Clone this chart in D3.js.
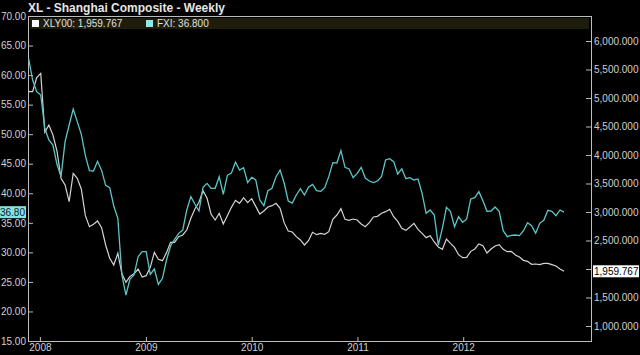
<!DOCTYPE html>
<html><head><meta charset="utf-8">
<script src="https://cdn.jsdelivr.net/npm/d3@7"></script>
<style>
html,body{margin:0;padding:0;background:#000;}
svg{display:block;}
text{font-family:"Liberation Sans",Arial,sans-serif;}
</style></head><body>
<svg id="chart" width="640" height="355"></svg>
<script>
const title = "XL - Shanghai Composite - Weekly";
const seriesNames = ["XLY00", "FXI"];
const startDate = "2007-11-23";
const stepDays = 14;
const fxiValues = [62.84,59.17,57.20,56.63,50.99,49.02,48.17,44.90,42.81,48.73,
51.55,54.26,52.12,49.97,46.36,43.83,43.77,45.41,43.88,41.34,
40.95,37.85,35.76,26.17,22.78,25.49,26.17,29.27,30.12,30.12,
26.28,27.18,24.59,25.61,28.71,31.08,32.21,33.22,33.78,37.17,
39.43,38.18,37.00,41.01,41.68,40.84,40.84,42.81,39.82,43.04,
43.43,45.29,43.94,44.33,41.80,42.70,42.25,38.86,37.90,40.44,
40.84,42.81,43.94,41.74,38.69,38.35,39.71,40.78,39.71,41.01,
41.51,40.44,40.33,40.95,42.81,45.18,45.12,47.21,44.39,44.11,
42.64,43.37,44.39,42.59,42.08,41.80,42.08,42.81,45.63,45.86,
45.35,43.26,44.16,42.47,42.64,42.25,42.42,39.99,36.61,37.17,
36.32,31.25,34.07,37.62,36.89,34.35,36.04,35.08,35.65,39.03,
39.26,40.27,38.75,36.94,37.00,37.68,36.94,33.67,32.66,32.88,
32.94,32.83,33.67,35.03,34.52,33.22,34.91,35.42,37.11,36.94,
36.21,37.17,36.80];
const xlValues = [5111,5111,5357,5433,4398,4526,4351,4070,3591,3474,
3181,3678,3591,3404,2936,2743,2784,2842,2725,2421,
2187,2070,2275,1918,1766,1871,1918,2000,1860,1883,
2029,2292,2170,2146,2287,2468,2468,2567,2597,2684,
2889,3053,3170,3374,3240,2959,2860,2977,2789,2936,
3082,3205,3152,3251,3164,3234,3099,2965,3018,3088,
3111,3152,3064,2813,2667,2649,2567,2509,2421,2497,
2643,2602,2626,2608,2655,2871,2947,3058,2871,2854,
2877,2860,2789,2743,2813,2912,2924,2977,3006,3047,
2918,2836,2713,2678,2737,2801,2696,2626,2550,2585,
2474,2386,2345,2526,2450,2380,2251,2199,2205,2310,
2351,2439,2409,2281,2351,2404,2427,2345,2304,2310,
2246,2211,2152,2135,2082,2088,2076,2099,2099,2076,
2053,2000,1959.767];
const leftTicks = [15,20,25,30,35,40,45,50,55,60,65,70];
const rightTicks = [1000,1500,2000,2500,3000,3500,4000,4500,5000,5500,6000];
const yearTicks = ["2008-01-01","2009-01-01","2010-01-01","2011-01-01","2012-01-01"];

const m = {left:28, right:591, top:16, bottom:341};
const parse = d3.timeParse("%Y-%m-%d");
const t0 = parse(startDate);
const dates = fxiValues.map((_, i) => d3.timeDay.offset(t0, i * stepDays));
const x = d3.scaleTime().domain([parse("2007-11-21"), parse("2013-03-17")]).range([m.left, m.right]);
const yL = d3.scaleLinear().domain([15, 70]).range([m.bottom, m.top]);
const yR = d3.scaleLinear().domain([736.8, 6438.6]).range([m.bottom, m.top]);

const svg = d3.select("#chart");
svg.append("rect").attr("width", 640).attr("height", 355).attr("fill", "#000");

const axisColor = "#bdbdbd", textColor = "#d0d0d0";
const fxiColor = "#5cc6c6", xlColor = "#d4d4d4";

// title
svg.append("text").attr("x", 28).attr("y", 12).attr("fill", "#e6e6e6")
  .attr("font-size", 12).attr("font-weight", "bold").text(title);

// legend bar
svg.append("rect").attr("x", 30).attr("y", 18).attr("width", 559).attr("height", 11).attr("fill", "#1e1c0a");
const lastXl = xlValues[xlValues.length - 1], lastFxi = fxiValues[fxiValues.length - 1];
const legendItems = [
  {name: seriesNames[0], val: d3.format(",.3f")(lastXl), color: "#ffffff", x: 32},
  {name: seriesNames[1], val: d3.format(",.3f")(lastFxi), color: "#8ee8e8", x: 146}
];
legendItems.forEach(d => {
  svg.append("rect").attr("x", d.x).attr("y", 20).attr("width", 7).attr("height", 7).attr("fill", d.color);
  svg.append("text").attr("x", d.x + 11).attr("y", 27).attr("fill", "#e0e0e0").attr("font-size", 10)
    .text(d.name + ": " + d.val);
});

const yx = yR(lastXl), yf = yL(lastFxi);

// axes
const gL = svg.append("g").attr("transform", `translate(${m.left},0)`)
  .call(d3.axisLeft(yL).tickValues(leftTicks).tickSizeInner(-5).tickSizeOuter(0).tickPadding(2).tickFormat(d3.format(".2f")));
const gR = svg.append("g").attr("transform", `translate(${m.right},0)`)
  .call(d3.axisRight(yR).tickValues(rightTicks).tickSizeInner(-5).tickSizeOuter(0).tickPadding(3).tickFormat(d3.format(",.3f")));
const gB = svg.append("g").attr("transform", `translate(0,${m.bottom})`)
  .call(d3.axisBottom(x).tickValues(yearTicks.map(parse)).tickSizeInner(-4).tickSizeOuter(0).tickPadding(3).tickFormat(d3.timeFormat("%Y")));
[gL, gR, gB].forEach(g => {
  g.select(".domain").remove();
  g.selectAll("line").attr("stroke", axisColor);
  g.selectAll("text").attr("fill", textColor).attr("font-size", 10).attr("font-family", "Liberation Sans, Arial, sans-serif");
});
// labels hidden behind the last-value boxes
gR.selectAll(".tick").filter(d => Math.abs(yR(d) - yx) < 11).select("text").remove();
gL.selectAll(".tick").filter(d => Math.abs(yL(d) - yf) < 9).select("text").remove();

// frame
svg.append("rect").attr("x", m.left + 0.5).attr("y", m.top + 0.5)
  .attr("width", m.right - m.left).attr("height", m.bottom - m.top)
  .attr("fill", "none").attr("stroke", axisColor).attr("stroke-width", 1);

// lines
const lineXl = d3.line().x((d, i) => x(dates[i])).y(d => yR(d));
const lineFxi = d3.line().x((d, i) => x(dates[i])).y(d => yL(d));
svg.append("path").datum(xlValues).attr("d", lineXl).attr("fill", "none").attr("stroke", xlColor).attr("stroke-width", 1.2);
svg.append("path").datum(fxiValues).attr("d", lineFxi).attr("fill", "none").attr("stroke", fxiColor).attr("stroke-width", 1.3);

// last value markers
svg.append("rect").attr("x", 0).attr("y", yf - 6).attr("width", 26).attr("height", 12).attr("fill", "#86e2e2");
svg.append("text").attr("x", 25).attr("y", yf).attr("dy", "0.35em").attr("text-anchor", "end")
  .attr("font-size", 10).attr("fill", "#0a1a30").text(d3.format(".2f")(lastFxi));
svg.append("rect").attr("x", 593).attr("y", yx - 6).attr("width", 46).attr("height", 12).attr("fill", "#ffffff");
svg.append("text").attr("x", 594).attr("y", yx).attr("dy", "0.35em")
  .attr("font-size", 10).attr("fill", "#000").text(d3.format(",.3f")(lastXl));
</script>
</body></html>
